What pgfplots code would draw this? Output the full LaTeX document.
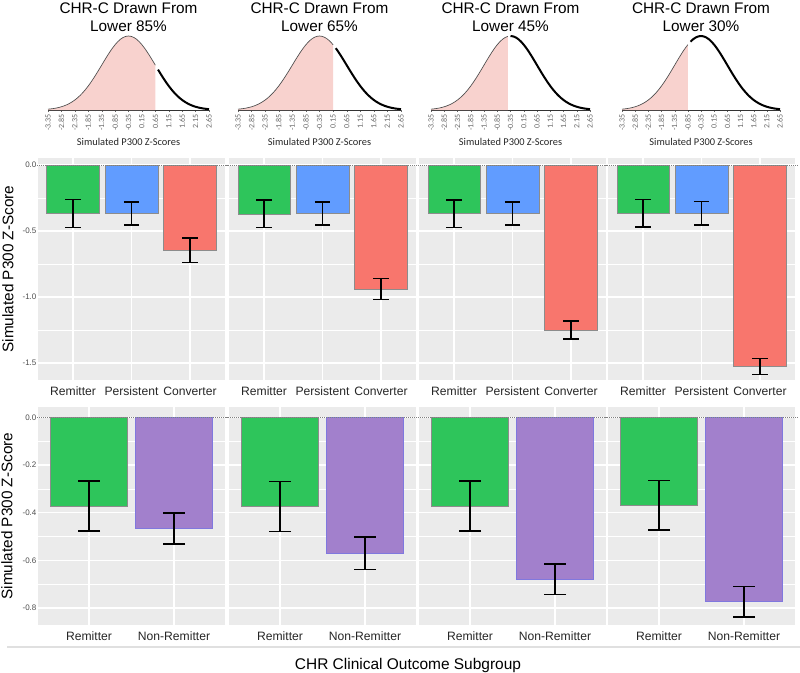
\documentclass[border=0pt]{standalone}
\usepackage{fontspec}
\setmainfont{Liberation Sans}
\newfontfamily\carlito{Carlito}
\usepackage{pgfplots}
\pgfplotsset{compat=1.18}
\usepackage{pgfplotstable}

\definecolor{cgreen}{RGB}{46,197,91}
\definecolor{cblue}{RGB}{97,156,255}
\definecolor{cred}{RGB}{248,118,109}
\definecolor{cpanel}{RGB}{235,235,235}
\definecolor{cnr}{RGB}{162,128,204}
\definecolor{cnredge}{RGB}{128,120,222}
\definecolor{cpink}{RGB}{248,210,206}
\definecolor{ctick}{RGB}{77,77,77}

% simulated P300 z-score distribution (peak scaled to 1)
\pgfplotstableread{
x y
-3.35 0.0111
-3.25 0.0149
-3.15 0.0198
-3.05 0.0261
-2.95 0.0340
-2.85 0.0439
-2.75 0.0561
-2.65 0.0710
-2.55 0.0889
-2.45 0.1103
-2.35 0.1353
-2.25 0.1645
-2.15 0.1979
-2.05 0.2357
-1.95 0.2780
-1.85 0.3247
-1.75 0.3753
-1.65 0.4296
-1.55 0.4868
-1.45 0.5461
-1.35 0.6065
-1.25 0.6670
-1.15 0.7261
-1.05 0.7827
-0.95 0.8353
-0.85 0.8825
-0.75 0.9231
-0.65 0.9560
-0.55 0.9802
-0.45 0.9950
-0.35 1.0000
-0.25 0.9950
-0.15 0.9802
-0.05 0.9560
0.05 0.9231
0.15 0.8825
0.25 0.8353
0.35 0.7827
0.45 0.7261
0.55 0.6670
0.65 0.6065
0.75 0.5461
0.85 0.4868
0.95 0.4296
1.05 0.3753
1.15 0.3247
1.25 0.2780
1.35 0.2357
1.45 0.1979
1.55 0.1645
1.65 0.1353
1.75 0.1103
1.85 0.0889
1.95 0.0710
2.05 0.0561
2.15 0.0439
2.25 0.0340
2.35 0.0261
2.45 0.0198
2.55 0.0149
2.65 0.0111
}\bell

\tikzset{errcap/.style={mark size=5.8pt}}

\pgfplotsset{
  facet/.style={
    scale only axis, anchor=north west, width=140.25pt,
    axis background/.style={fill=cpanel},
    axis line style={draw=none},
    ymajorgrids, yminorgrids, xmajorgrids,
    major grid style={white, line width=0.9pt},
    minor grid style={white, line width=0.45pt},
    tick style={draw=none},
    xticklabel style={font=\fontsize{9.1}{10}\selectfont, text=black!85, anchor=base, yshift=-11.8pt},
    yticklabel style={font=\fontsize{6}{7}\selectfont, text=ctick, inner sep=1pt},
    xmin=0.4, clip=false,
  },
  mid/.style={facet, height=166.5pt, ymin=-1.629, ymax=0.053, xmax=3.6,
    xtick={1,2,3}, xticklabels={Remitter,Persistent,Converter},
    ytick={-1.5,-1,-0.5,0}, minor ytick={-1.25,-0.75,-0.25},
    yticklabels={-1.5,-1.0,-0.5,0.0}, /tikz/errcap/.style={mark size=5.8pt}},
  low/.style={facet, height=163.5pt, ymin=-0.871, ymax=0.043, xmax=2.6,
    xtick={1,2}, xticklabels={Remitter,Non-Remitter},
    ytick={-0.8,-0.6,-0.4,-0.2,0}, minor ytick={-0.7,-0.5,-0.3,-0.1},
    yticklabels={-0.8,-0.6,-0.4,-0.2,0.0}, /tikz/errcap/.style={mark size=8.25pt}},
  bars/.style={ybar, bar width=0.9, bar shift=0pt, draw=black!45, line width=0.4pt,
    error bars/y dir=both, error bars/y explicit,
    error bars/error mark=|,
    error bars/error bar style={black, line width=1.1pt},
    error bars/error mark options={black, line width=1.1pt, errcap}},
  curve/.style={
    scale only axis, anchor=north west, height=55.5pt,
    xmin=-3.35, xmax=2.65, ymin=0, ymax=1,
    axis y line=none, axis x line*=bottom,
    x axis line style={-, black!80, line width=0.5pt},
    xtick={-3.35,-2.85,-2.35,-1.85,-1.35,-0.85,-0.35,0.15,0.65,1.15,1.65,2.15,2.65},
    xticklabels={-3.35,-2.85,-2.35,-1.85,-1.35,-0.85,-0.35,0.15,0.65,1.15,1.65,2.15,2.65},
    xticklabel style={rotate=90, anchor=east, inner sep=1.5pt,
      font=\carlito\fontsize{6}{7}\selectfont, text=black!60},
    tick align=outside, major tick length=1.5pt, tick style={black!60},
    clip=false,
  },
}

\newcommand{\zeroline}{\draw[densely dotted, black!50, line width=0.5pt]
  ({rel axis cs:-0.015,0}|-{axis cs:1,0}) -- ({rel axis cs:1.015,0}|-{axis cs:1,0});}

% #1 left (px), #2 cutoff, #3 width
\newcommand{\bellpanel}[3]{%
\begin{axis}[curve, at={({#1*0.75pt},{-36*0.75pt})}, width=#3]
  \addplot[draw=none, fill=cpink, restrict x to domain=-4:#2] table[x=x,y=y] {\bell} \closedcycle;
  \addplot[black!70, line width=0.5pt, restrict x to domain=-4:#2] table[x=x,y=y] {\bell};
  \addplot[black, line width=1.5pt, restrict x to domain=#2:3] table[x=x,y=y] {\bell};
\end{axis}}

% #1 left, Remitter, err, Persistent, err, Converter, err, ytick labels
\newcommand{\midpanel}[8]{%
\begin{axis}[mid, at={({#1*0.75pt},{-158*0.75pt})}, #8]
  \addplot[bars, fill=cgreen] coordinates {(1,#2) +- (0,#3)};
  \addplot[bars, fill=cblue] coordinates {(2,#4) +- (0,#5)};
  \addplot[bars, fill=cred] coordinates {(3,#6) +- (0,#7)};
  \zeroline
\end{axis}}

% #1 left, Remitter, err, Non-Remitter, err, ytick labels
\newcommand{\lowpanel}[6]{%
\begin{axis}[low, at={({#1*0.75pt},{-407*0.75pt})}, #6]
  \addplot[bars, fill=cgreen] coordinates {(1,#2) +- (0,#3)};
  \addplot[bars, fill=cnr, draw=cnredge] coordinates {(2,#4) +- (0,#5)};
  \zeroline
\end{axis}}

\begin{document}
\begin{tikzpicture}[x=0.75pt, y=-0.75pt]
\useasboundingbox (0,0) rectangle (800,672);

% distribution panels
\bellpanel{48}{0.66}{120.75pt}
\bellpanel{238}{0.16}{122.25pt}
\bellpanel{431}{-0.44}{119.25pt}
\bellpanel{622}{-0.84}{118.5pt}

\foreach \cx/\pc in {128.5/85, 319.5/65, 510.5/45, 701/30} {
  \node[anchor=base, font=\fontsize{11.5}{13}\selectfont] at (\cx,13) {CHR-C Drawn From};
  \node[anchor=base, font=\fontsize{11.5}{13}\selectfont] at (\cx,31) {Lower \pc\%};
  \node[font=\carlito\fontsize{7.8}{9}\selectfont, text=black!85] at (\cx,142) {Simulated P300 Z-Scores};
}

% three outcome groups
\midpanel{38}{-0.368}{0.105}{-0.368}{0.088}{-0.645}{0.093}{}
\midpanel{229}{-0.370}{0.105}{-0.366}{0.087}{-0.940}{0.080}{yticklabels={}}
\midpanel{419}{-0.369}{0.105}{-0.366}{0.087}{-1.250}{0.068}{yticklabels={}}
\midpanel{608}{-0.366}{0.103}{-0.366}{0.089}{-1.528}{0.060}{yticklabels={}}

% remitter vs non-remitter
\lowpanel{38}{-0.372}{0.105}{-0.467}{0.065}{}
\lowpanel{229}{-0.374}{0.105}{-0.570}{0.068}{yticklabels={}}
\lowpanel{419}{-0.372}{0.105}{-0.680}{0.064}{yticklabels={}}
\lowpanel{608}{-0.369}{0.104}{-0.773}{0.064}{yticklabels={}}

\node[rotate=90, font=\fontsize{11.5}{13}\selectfont] at (8,269) {Simulated P300 Z-Score};
\node[rotate=90, font=\fontsize{11.5}{13}\selectfont] at (7,516) {Simulated P300 Z-Score};
\draw[black!12, line width=1.5pt] (7,647) -- (800,647);
\node[anchor=base, font=\fontsize{11.6}{13}\selectfont] at (408,669) {CHR Clinical Outcome Subgroup};
\end{tikzpicture}
\end{document}
